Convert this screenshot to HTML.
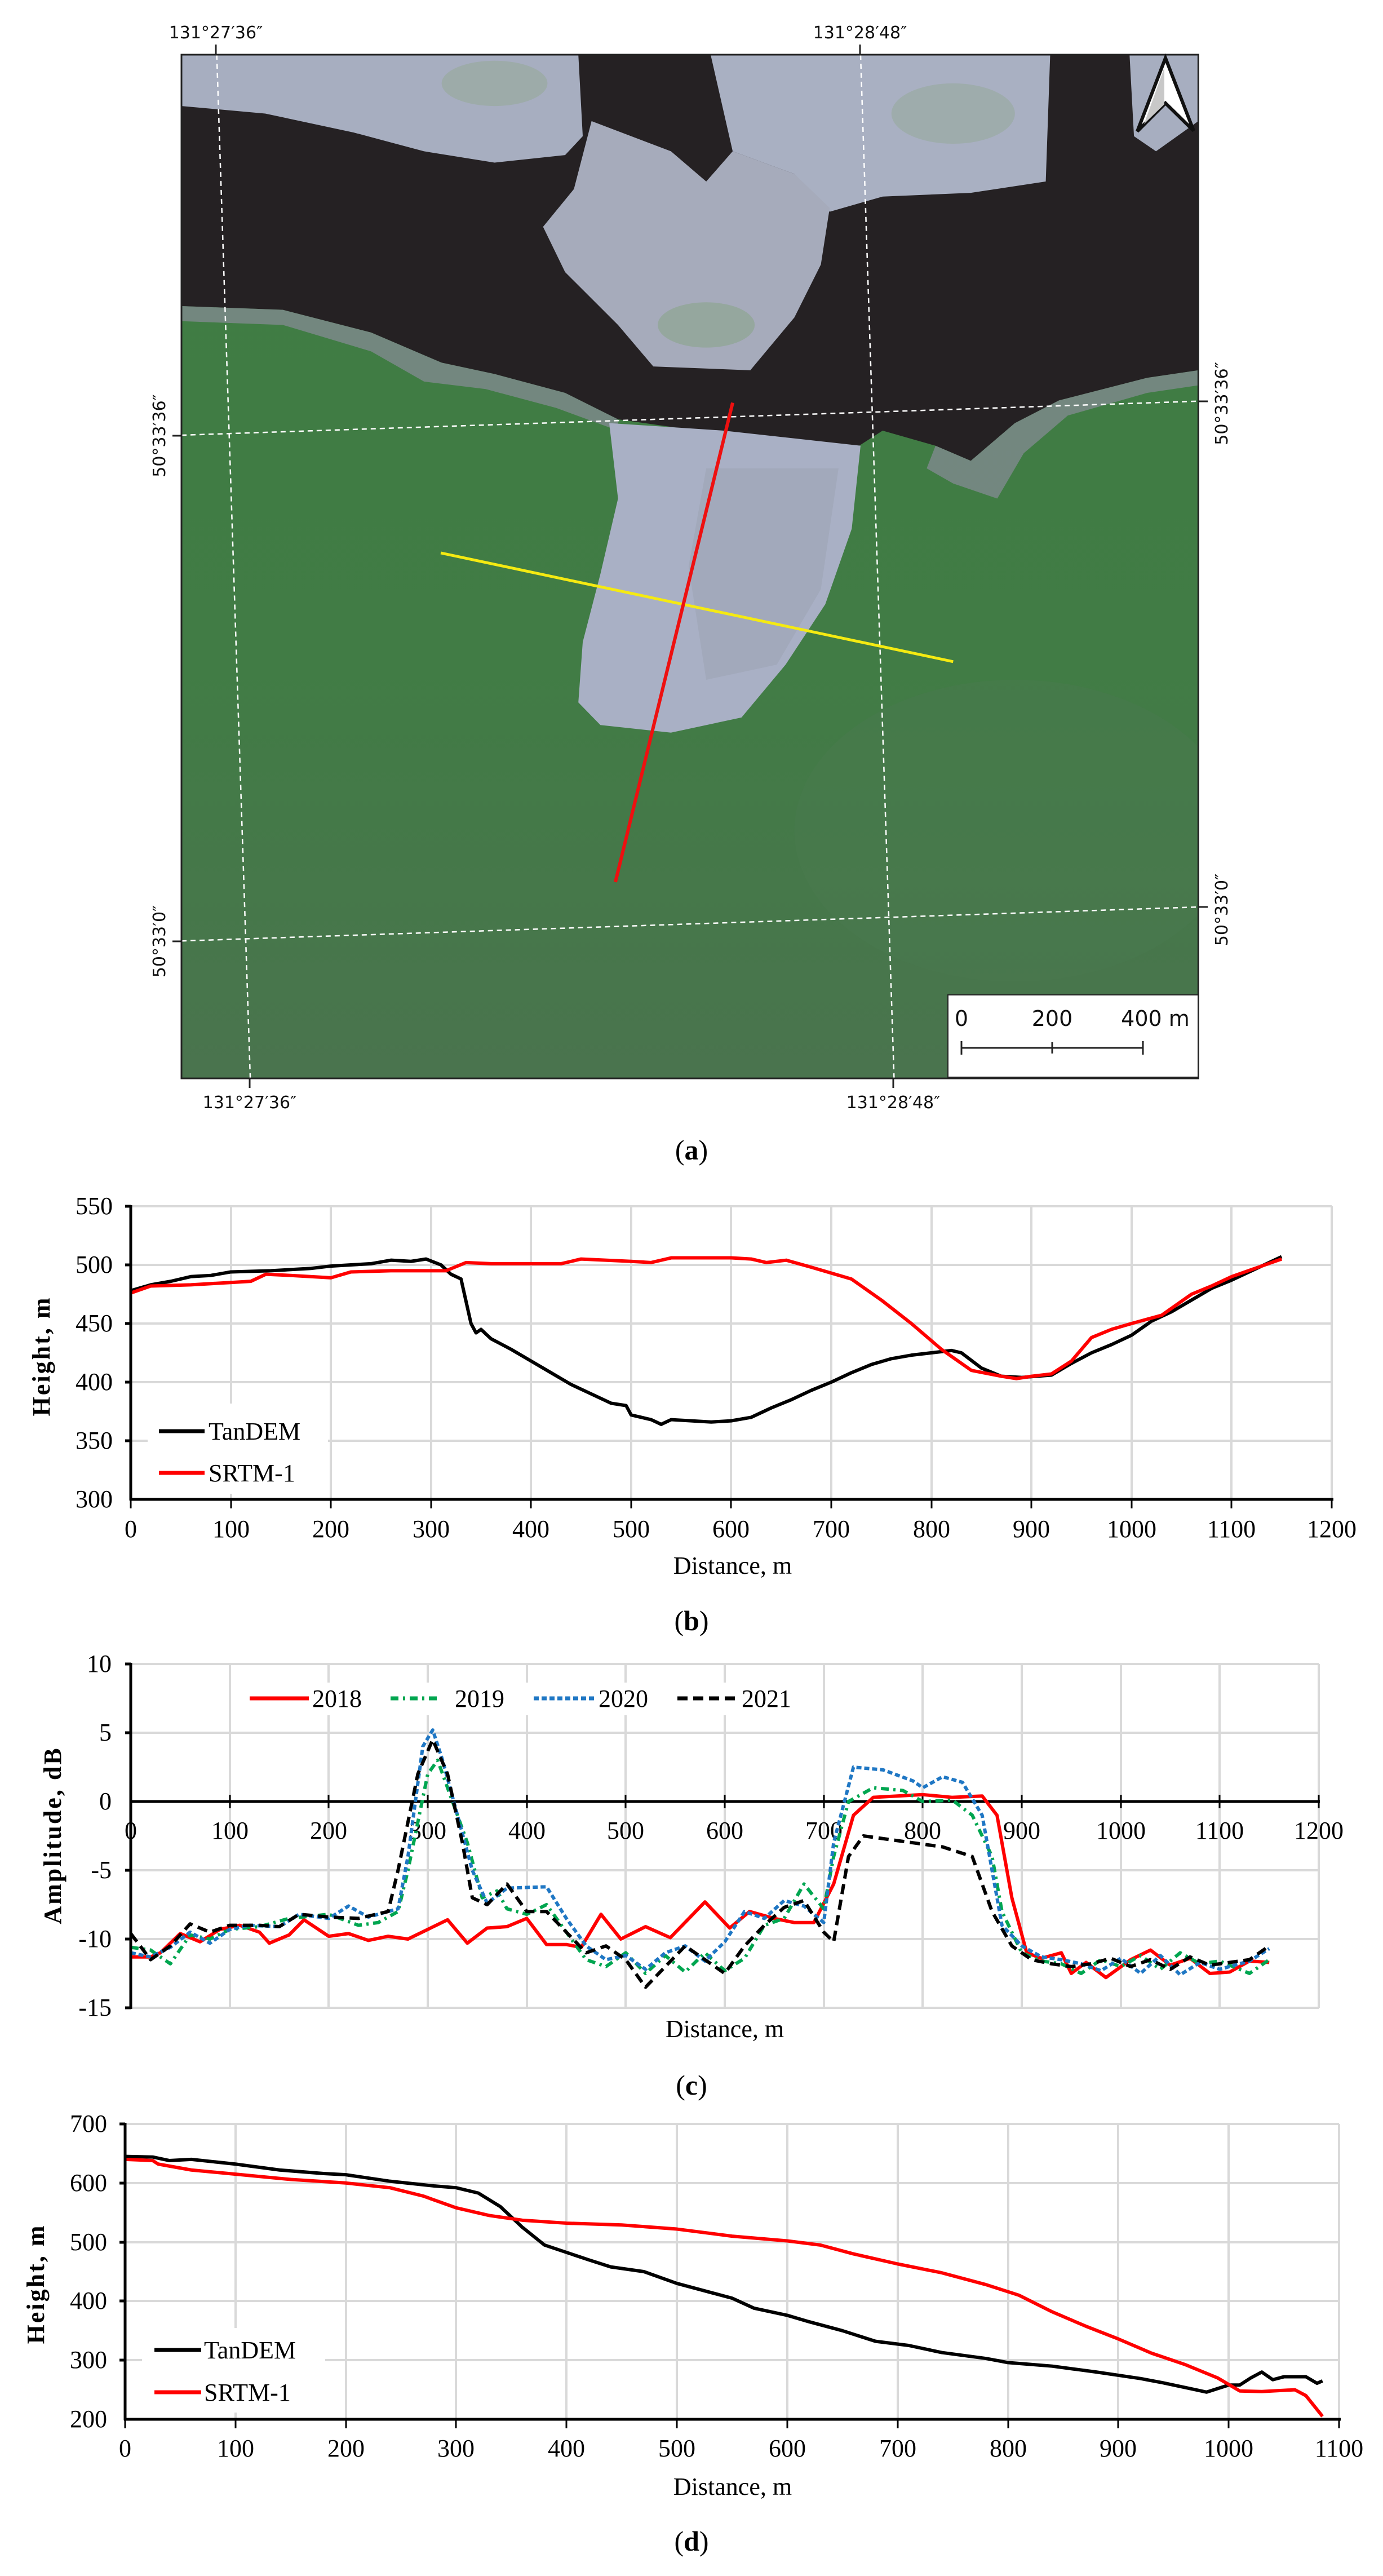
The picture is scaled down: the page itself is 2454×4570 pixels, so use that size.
<!DOCTYPE html>
<html><head><meta charset="utf-8"><style>
html,body{margin:0;padding:0;background:#fff;}
svg{display:block}
.tk{font-family:"Liberation Serif",serif;font-size:44px;fill:#000}
.ml{font-family:"DejaVu Sans",sans-serif;font-size:30px;fill:#111}
</style></head><body>
<svg xmlns="http://www.w3.org/2000/svg" width="2454" height="4570" viewBox="0 0 2454 4570">
<defs>
<linearGradient id="gg" x1="0" y1="0" x2="0" y2="1">
<stop offset="0" stop-color="#3f7d43"/><stop offset="0.6" stop-color="#417c45"/><stop offset="1" stop-color="#4a744e"/>
</linearGradient>
<clipPath id="mc"><rect x="205" y="72" width="1153" height="1356"/></clipPath>
</defs>
<!-- MAP -->
<g transform="translate(322,97) scale(1.5649,1.3393) translate(-205,-72)">
<g clip-path="url(#mc)">
<rect x="205" y="72" width="1153" height="1356" fill="url(#gg)"/>
<ellipse cx="1150" cy="1100" rx="250" ry="200" fill="#4a7a50" opacity="0.4"/>
<path d="M205,72 L1358,72 L1358,490 L1300,500 L1200,530 L1150,560 L1100,610 L1060,590 L1000,570 L960,600 L900,590 L820,575 L700,555 L640,520 L560,495 L500,480 L420,440 L320,410 L205,405 Z" fill="#252123"/>
<path d="M205,405 L320,410 L420,440 L500,480 L560,495 L640,520 L700,555 L700,570 L630,540 L550,515 L480,505 L420,465 L320,430 L205,425 Z" fill="#7f8a8f" opacity="0.8"/>
<path d="M1060,590 L1100,610 L1150,560 L1200,530 L1300,500 L1358,490 L1358,510 L1300,520 L1210,550 L1160,600 L1130,660 L1080,640 L1050,620 Z" fill="#7f8a8f" opacity="0.8"/>
<path d="M205,72 L655,72 L660,180 L640,205 L560,215 L480,200 L400,175 L300,150 L205,140 Z" fill="#a7aec0"/>
<path d="M805,72 L1190,72 L1185,240 L1100,255 L1000,260 L940,280 L900,230 L830,200 Z" fill="#a9b0c2"/>
<path d="M1280,72 L1358,72 L1358,160 L1310,200 L1285,180 Z" fill="#a7aec0"/>
<path d="M670,160 L760,200 L800,240 L830,200 L900,230 L940,275 L930,350 L900,420 L850,490 L740,485 L700,430 L640,360 L615,300 L650,250 Z" fill="#a6abbb"/>
<ellipse cx="800" cy="430" rx="55" ry="30" fill="#8fa592" opacity="0.7"/>
<ellipse cx="560" cy="110" rx="60" ry="30" fill="#96a89a" opacity="0.6"/>
<ellipse cx="1080" cy="150" rx="70" ry="40" fill="#98aa9d" opacity="0.6"/>
<path d="M690,560 L820,570 L975,590 L965,700 L935,800 L890,880 L840,950 L760,970 L680,960 L655,930 L660,850 L680,760 L700,660 Z" fill="#a9b0c5"/>
<path d="M800,620 L950,620 L930,780 L880,880 L800,900 L780,750 Z" fill="#9ca1b2" opacity="0.5"/>
<g stroke="#fff" stroke-width="2.5" stroke-dasharray="9,7" fill="none">
<line x1="245" y1="72" x2="283" y2="1428" vector-effect="non-scaling-stroke"/>
<line x1="975" y1="72" x2="1013" y2="1428" vector-effect="non-scaling-stroke"/>
<line x1="205" y1="576" x2="1358" y2="531" vector-effect="non-scaling-stroke"/>
<line x1="205" y1="1246" x2="1358" y2="1201" vector-effect="non-scaling-stroke"/>
</g>
<line x1="499" y1="732" x2="1080" y2="876" stroke="#f5ea12" stroke-width="5" vector-effect="non-scaling-stroke"/>
<line x1="830" y1="533" x2="697" y2="1168" stroke="#ee1010" stroke-width="6" vector-effect="non-scaling-stroke"/>
</g>
<rect x="205" y="72" width="1153" height="1356" fill="none" stroke="#222" stroke-width="3" vector-effect="non-scaling-stroke"/>
</g>
<g stroke="#222" stroke-width="3">
<line x1="383" y1="79" x2="383" y2="97"/><line x1="1526" y1="79" x2="1526" y2="97"/>
<line x1="443" y1="1912" x2="443" y2="1930"/><line x1="1585" y1="1912" x2="1585" y2="1930"/>
<line x1="306" y1="773" x2="322" y2="773"/><line x1="306" y1="1670" x2="322" y2="1670"/>
<line x1="2127" y1="712" x2="2143" y2="712"/><line x1="2127" y1="1609" x2="2143" y2="1609"/>
</g>
<text class="ml" x="383" y="68" text-anchor="middle">131°27′36″</text>
<text class="ml" x="1526" y="68" text-anchor="middle">131°28′48″</text>
<text class="ml" x="443" y="1966" text-anchor="middle">131°27′36″</text>
<text class="ml" x="1585" y="1966" text-anchor="middle">131°28′48″</text>
<text class="ml" transform="translate(293,773) rotate(-90)" text-anchor="middle">50°33′36″</text>
<text class="ml" transform="translate(293,1670) rotate(-90)" text-anchor="middle">50°33′0″</text>
<text class="ml" transform="translate(2178,716) rotate(-90)" text-anchor="middle">50°33′36″</text>
<text class="ml" transform="translate(2178,1614) rotate(-90)" text-anchor="middle">50°33′0″</text>
<rect x="1682" y="1765" width="444" height="146" fill="#fff" stroke="#222" stroke-width="2"/>
<g font-family="DejaVu Sans, sans-serif" font-size="38" fill="#111" text-anchor="middle">
<text x="1706" y="1820">0</text><text x="1867" y="1820">200</text><text x="2050" y="1820">400 m</text>
</g>
<g stroke="#222" stroke-width="3">
<line x1="1706" y1="1859" x2="2028" y2="1859"/>
<line x1="1706" y1="1847" x2="1706" y2="1871"/><line x1="1867" y1="1849" x2="1867" y2="1869"/><line x1="2028" y1="1847" x2="2028" y2="1871"/>
</g>
<path d="M2068,103 L2118,232 L2068,183 L2018,233 Z" fill="#fff" stroke="#111" stroke-width="6" stroke-linejoin="miter"/>
<path d="M2066,120 L2066,185 L2030,220 Z" fill="#c8c8c8"/>
<text x="1227" y="2057" text-anchor="middle" font-family="Liberation Serif,serif" font-size="50">(<tspan font-weight="bold">a</tspan>)</text>

<!-- CHART B -->
<g stroke="#d9d9d9" stroke-width="4">
<line x1="232" y1="2140" x2="2363" y2="2140"/><line x1="232" y1="2244" x2="2363" y2="2244"/><line x1="232" y1="2348" x2="2363" y2="2348"/><line x1="232" y1="2452" x2="2363" y2="2452"/><line x1="232" y1="2556" x2="2363" y2="2556"/>
<line x1="410" y1="2140" x2="410" y2="2660"/><line x1="587" y1="2140" x2="587" y2="2660"/><line x1="765" y1="2140" x2="765" y2="2660"/><line x1="942" y1="2140" x2="942" y2="2660"/><line x1="1120" y1="2140" x2="1120" y2="2660"/><line x1="1297" y1="2140" x2="1297" y2="2660"/><line x1="1475" y1="2140" x2="1475" y2="2660"/><line x1="1653" y1="2140" x2="1653" y2="2660"/><line x1="1830" y1="2140" x2="1830" y2="2660"/><line x1="2008" y1="2140" x2="2008" y2="2660"/><line x1="2185" y1="2140" x2="2185" y2="2660"/><line x1="2363" y1="2140" x2="2363" y2="2660"/>
</g>
<rect x="262" y="2490" width="320" height="160" fill="#fff"/>
<g transform="translate(232,2140) scale(1.7758,-2.08) translate(0,-550)" fill="none" stroke-width="6" stroke-linejoin="round">
<polyline vector-effect="non-scaling-stroke" stroke="#000" points="0,478 20,483 40,486 60,490 80,491 100,494 140,495 180,497 200,499 220,500 240,501 260,504 280,503 295,505 310,500 320,492 330,488 340,450 345,442 350,445 360,437 380,428 400,418 420,408 440,398 460,390 480,382 495,380 500,372 520,368 530,364 540,368 560,367 580,366 600,367 620,370 640,378 660,385 680,393 700,400 720,408 740,415 760,420 780,423 800,425 820,427 830,425 850,412 870,405 890,404 920,406 940,416 960,425 980,432 1000,440 1020,452 1040,460 1060,470 1080,480 1100,487 1120,495 1150,507"/>
<polyline vector-effect="non-scaling-stroke" stroke="#f00" points="0,476 20,482 60,483 100,485 120,486 135,492 160,491 200,489 220,494 260,495 300,495 315,495 335,502 360,501 400,501 430,501 450,505 500,503 520,502 540,506 600,506 620,505 635,502 655,504 680,498 720,488 750,470 780,450 810,428 840,410 870,405 885,403 900,405 920,407 940,418 960,438 980,445 1000,450 1030,457 1060,475 1080,482 1100,490 1150,505"/>
</g>
<g stroke="#000" stroke-width="5">
<line x1="232" y1="2138" x2="232" y2="2662"/><line x1="230" y1="2660" x2="2366" y2="2660"/>
<line x1="222" y1="2140" x2="232" y2="2140"/><line x1="222" y1="2244" x2="232" y2="2244"/><line x1="222" y1="2348" x2="232" y2="2348"/><line x1="222" y1="2452" x2="232" y2="2452"/><line x1="222" y1="2556" x2="232" y2="2556"/>
</g>
<g stroke="#000" stroke-width="3">
<line x1="232" y1="2660" x2="232" y2="2676"/><line x1="410" y1="2660" x2="410" y2="2676"/><line x1="587" y1="2660" x2="587" y2="2676"/><line x1="765" y1="2660" x2="765" y2="2676"/><line x1="942" y1="2660" x2="942" y2="2676"/><line x1="1120" y1="2660" x2="1120" y2="2676"/><line x1="1297" y1="2660" x2="1297" y2="2676"/><line x1="1475" y1="2660" x2="1475" y2="2676"/><line x1="1653" y1="2660" x2="1653" y2="2676"/><line x1="1830" y1="2660" x2="1830" y2="2676"/><line x1="2008" y1="2660" x2="2008" y2="2676"/><line x1="2185" y1="2660" x2="2185" y2="2676"/><line x1="2363" y1="2660" x2="2363" y2="2676"/>
</g>
<g class="tk" text-anchor="end">
<text x="200" y="2154">550</text><text x="200" y="2258">500</text><text x="200" y="2362">450</text><text x="200" y="2466">400</text><text x="200" y="2570">350</text><text x="200" y="2674">300</text>
</g>
<g class="tk" text-anchor="middle">
<text x="232" y="2727">0</text><text x="410" y="2727">100</text><text x="587" y="2727">200</text><text x="765" y="2727">300</text><text x="942" y="2727">400</text><text x="1120" y="2727">500</text><text x="1297" y="2727">600</text><text x="1475" y="2727">700</text><text x="1653" y="2727">800</text><text x="1830" y="2727">900</text><text x="2008" y="2727">1000</text><text x="2185" y="2727">1100</text><text x="2363" y="2727">1200</text>
<text x="1300" y="2792">Distance, m</text>
</g>
<text class="tk" transform="translate(88,2406) rotate(-90)" text-anchor="middle" font-weight="bold" letter-spacing="3" font-size="42">Height, m</text>
<line x1="282" y1="2539" x2="363" y2="2539" stroke="#000" stroke-width="7"/>
<line x1="282" y1="2613" x2="363" y2="2613" stroke="#f00" stroke-width="7"/>
<text class="tk" x="370" y="2554">TanDEM</text><text class="tk" x="370" y="2628">SRTM-1</text>
<text x="1227" y="2892" text-anchor="middle" font-family="Liberation Serif,serif" font-size="50">(<tspan font-weight="bold">b</tspan>)</text>

<!-- CHART C -->
<g stroke="#d9d9d9" stroke-width="4">
<line x1="232" y1="2952" x2="2340" y2="2952"/><line x1="232" y1="3074" x2="2340" y2="3074"/><line x1="232" y1="3318" x2="2340" y2="3318"/><line x1="232" y1="3440" x2="2340" y2="3440"/><line x1="232" y1="3562" x2="2340" y2="3562"/>
<line x1="408" y1="2952" x2="408" y2="3562"/><line x1="583" y1="2952" x2="583" y2="3562"/><line x1="759" y1="2952" x2="759" y2="3562"/><line x1="935" y1="2952" x2="935" y2="3562"/><line x1="1110" y1="2952" x2="1110" y2="3562"/><line x1="1286" y1="2952" x2="1286" y2="3562"/><line x1="1462" y1="2952" x2="1462" y2="3562"/><line x1="1637" y1="2952" x2="1637" y2="3562"/><line x1="1813" y1="2952" x2="1813" y2="3562"/><line x1="1989" y1="2952" x2="1989" y2="3562"/><line x1="2164" y1="2952" x2="2164" y2="3562"/><line x1="2340" y1="2952" x2="2340" y2="3562"/>
</g>
<rect x="430" y="2985" width="995" height="58" fill="#fff"/>
<g stroke="#000" stroke-width="5">
<line x1="230" y1="3196" x2="2342" y2="3196"/>
</g>
<g stroke="#000" stroke-width="3">
<line x1="232" y1="3184" x2="232" y2="3208"/><line x1="408" y1="3184" x2="408" y2="3208"/><line x1="583" y1="3184" x2="583" y2="3208"/><line x1="759" y1="3184" x2="759" y2="3208"/><line x1="935" y1="3184" x2="935" y2="3208"/><line x1="1110" y1="3184" x2="1110" y2="3208"/><line x1="1286" y1="3184" x2="1286" y2="3208"/><line x1="1462" y1="3184" x2="1462" y2="3208"/><line x1="1637" y1="3184" x2="1637" y2="3208"/><line x1="1813" y1="3184" x2="1813" y2="3208"/><line x1="1989" y1="3184" x2="1989" y2="3208"/><line x1="2164" y1="3184" x2="2164" y2="3208"/><line x1="2340" y1="3184" x2="2340" y2="3208"/>
</g>
<g class="tk" text-anchor="middle">
<text x="232" y="3262">0</text><text x="408" y="3262">100</text><text x="583" y="3262">200</text><text x="759" y="3262">300</text><text x="935" y="3262">400</text><text x="1110" y="3262">500</text><text x="1286" y="3262">600</text><text x="1462" y="3262">700</text><text x="1637" y="3262">800</text><text x="1813" y="3262">900</text><text x="1989" y="3262">1000</text><text x="2164" y="3262">1100</text><text x="2340" y="3262">1200</text>
<text x="1286" y="3614">Distance, m</text>
</g>
<g transform="translate(232,3196) scale(1.7567,-24.4)" fill="none" stroke-width="6" stroke-linejoin="round">
<polyline vector-effect="non-scaling-stroke" stroke="#f00" points="0,-11.3 20,-11.3 30,-11 50,-9.6 70,-10.2 90,-9.3 110,-9 130,-9.5 140,-10.3 160,-9.7 175,-8.6 200,-9.8 220,-9.6 240,-10.1 260,-9.8 280,-10 300,-9.3 320,-8.6 340,-10.3 360,-9.2 380,-9.1 400,-8.5 420,-10.4 440,-10.4 455,-10.6 475,-8.2 495,-10 520,-9.1 545,-9.9 580,-7.3 605,-9.2 625,-8 650,-8.5 670,-8.8 690,-8.8 710,-6 730,-1 750,0.3 800,0.5 830,0.3 860,0.4 875,-1 890,-7 905,-11 920,-11.4 940,-11 950,-12.5 965,-11.7 985,-12.8 1010,-11.5 1030,-10.8 1050,-11.9 1070,-11.4 1090,-12.5 1110,-12.4 1130,-11.6 1150,-11.7"/>
<polyline vector-effect="non-scaling-stroke" stroke="#00a650" stroke-dasharray="14,8,4,8" points="0,-10.6 20,-10.8 40,-11.8 60,-9.7 80,-10 100,-9.3 130,-9.1 160,-8.5 200,-8.2 230,-9 250,-8.8 270,-8 280,-5 300,2 310,3 320,1 340,-3 355,-7 370,-6.5 380,-7.8 400,-8.2 420,-7.5 440,-9.5 460,-11.5 480,-12 500,-11 520,-12.5 540,-11.2 560,-12.4 580,-11 600,-12.3 620,-11.4 640,-9 660,-8.5 680,-6 700,-7.8 710,-4 725,0 750,1 780,0.8 800,0 830,0.1 850,-1 870,-4 880,-8 900,-11 920,-11.6 940,-11.8 960,-12.5 980,-11.5 1000,-12 1020,-11.2 1040,-12.2 1060,-11 1080,-11.8 1100,-11.6 1130,-12.5 1150,-11.5"/>
<polyline vector-effect="non-scaling-stroke" stroke="#1f77c4" stroke-dasharray="9,5" points="0,-11 20,-11.3 40,-10.6 60,-9.5 80,-10.3 100,-9.3 120,-9 150,-9.1 170,-8.2 200,-8.5 220,-7.6 240,-8.4 270,-7.8 280,-4 295,4 305,5.2 315,3 330,-1 345,-5 360,-7.4 380,-6.3 420,-6.2 440,-8.5 460,-10.5 480,-11.5 500,-11.2 520,-12.2 540,-11 560,-10.5 580,-11.6 600,-10.2 620,-8 640,-8.5 660,-7.2 680,-7.6 700,-8.8 710,-3 730,2.5 760,2.3 790,1.5 800,1 820,1.8 840,1.4 860,-1 870,-5 880,-9 900,-10.5 920,-11.3 940,-11.5 960,-11.8 980,-12.3 1000,-11.4 1020,-12.5 1040,-11.2 1060,-12.6 1080,-11.7 1100,-12.2 1130,-11.6 1150,-10.7"/>
<polyline vector-effect="non-scaling-stroke" stroke="#000" stroke-dasharray="18,10" points="0,-9.6 20,-11.5 40,-10.5 60,-8.9 80,-9.5 100,-9 130,-9 150,-9.1 170,-8.2 200,-8.4 230,-8.5 260,-8 270,-5 290,2 305,4.5 320,2 335,-3 345,-7 360,-7.5 380,-6 400,-8 420,-8 440,-9.5 460,-11 480,-10.5 500,-11.5 520,-13.5 540,-12 560,-10.5 580,-11.5 600,-12.5 620,-10.5 640,-9 660,-7.7 680,-7.2 700,-9.5 710,-10.2 725,-4 740,-2.5 770,-2.8 790,-3 820,-3.3 850,-4 870,-8 890,-10.5 910,-11.5 930,-11.8 950,-12 970,-11.8 990,-11.4 1010,-12 1030,-11.5 1050,-12.2 1070,-11.3 1090,-11.9 1110,-11.7 1130,-11.5 1150,-10.5"/>
</g>
<g stroke="#000" stroke-width="5">
<line x1="232" y1="2950" x2="232" y2="3564"/>
<line x1="222" y1="2952" x2="232" y2="2952"/><line x1="222" y1="3074" x2="232" y2="3074"/><line x1="222" y1="3318" x2="232" y2="3318"/><line x1="222" y1="3440" x2="232" y2="3440"/><line x1="222" y1="3562" x2="232" y2="3562"/>
</g>
<g class="tk" text-anchor="end">
<text x="198" y="2966">10</text><text x="198" y="3088">5</text><text x="198" y="3210">0</text><text x="198" y="3332">-5</text><text x="198" y="3454">-10</text><text x="198" y="3576">-15</text>
</g>
<text class="tk" transform="translate(108,3256) rotate(-90)" text-anchor="middle" font-weight="bold" letter-spacing="3" font-size="42">Amplitude, dB</text>
<line x1="443" y1="3013" x2="548" y2="3013" stroke="#f00" stroke-width="7"/>
<line x1="693" y1="3013" x2="782" y2="3013" stroke="#00a650" stroke-width="7" stroke-dasharray="14,8,4,8"/>
<line x1="947" y1="3013" x2="1056" y2="3013" stroke="#1f77c4" stroke-width="7" stroke-dasharray="9,5"/>
<line x1="1202" y1="3013" x2="1311" y2="3013" stroke="#000" stroke-width="7" stroke-dasharray="18,10"/>
<g class="tk"><text x="554" y="3028">2018</text><text x="807" y="3028">2019</text><text x="1062" y="3028">2020</text><text x="1316" y="3028">2021</text></g>
<text x="1227" y="3716" text-anchor="middle" font-family="Liberation Serif,serif" font-size="50">(<tspan font-weight="bold">c</tspan>)</text>

<!-- CHART D -->
<g stroke="#d9d9d9" stroke-width="4">
<line x1="222" y1="3768" x2="2376" y2="3768"/><line x1="222" y1="3873" x2="2376" y2="3873"/><line x1="222" y1="3978" x2="2376" y2="3978"/><line x1="222" y1="4082" x2="2376" y2="4082"/><line x1="222" y1="4187" x2="2376" y2="4187"/>
<line x1="418" y1="3768" x2="418" y2="4292"/><line x1="614" y1="3768" x2="614" y2="4292"/><line x1="809" y1="3768" x2="809" y2="4292"/><line x1="1005" y1="3768" x2="1005" y2="4292"/><line x1="1201" y1="3768" x2="1201" y2="4292"/><line x1="1397" y1="3768" x2="1397" y2="4292"/><line x1="1593" y1="3768" x2="1593" y2="4292"/><line x1="1789" y1="3768" x2="1789" y2="4292"/><line x1="1984" y1="3768" x2="1984" y2="4292"/><line x1="2180" y1="3768" x2="2180" y2="4292"/><line x1="2376" y1="3768" x2="2376" y2="4292"/>
</g>
<rect x="252" y="4130" width="325" height="150" fill="#fff"/>
<g transform="translate(222,3768) scale(1.9582,-1.048) translate(0,-700)" fill="none" stroke-width="6" stroke-linejoin="round">
<polyline vector-effect="non-scaling-stroke" stroke="#000" points="0,645 25,644 40,638 60,640 80,636 100,632 140,622 180,616 200,614 240,603 280,595 300,592 320,583 340,560 360,525 380,495 420,470 440,458 470,450 500,430 530,415 550,405 570,388 600,376 620,365 650,350 680,332 710,325 740,313 780,303 800,296 840,290 880,280 920,269 940,262 970,250 980,246 990,252 1000,258 1010,258 1020,270 1030,280 1040,267 1050,272 1070,272 1080,261 1085,265"/>
<polyline vector-effect="non-scaling-stroke" stroke="#f00" points="0,640 25,638 30,632 60,622 100,615 150,606 200,600 240,592 270,578 300,558 330,545 360,537 400,532 450,529 500,522 550,510 600,502 630,495 660,480 700,463 740,448 780,428 810,410 840,382 870,358 900,336 930,312 960,293 990,270 1010,248 1030,247 1060,250 1070,240 1085,205"/>
</g>
<g stroke="#000" stroke-width="5">
<line x1="222" y1="3766" x2="222" y2="4294"/><line x1="220" y1="4292" x2="2379" y2="4292"/>
<line x1="212" y1="3768" x2="222" y2="3768"/><line x1="212" y1="3873" x2="222" y2="3873"/><line x1="212" y1="3978" x2="222" y2="3978"/><line x1="212" y1="4082" x2="222" y2="4082"/><line x1="212" y1="4187" x2="222" y2="4187"/>
</g>
<g stroke="#000" stroke-width="3">
<line x1="222" y1="4292" x2="222" y2="4308"/><line x1="418" y1="4292" x2="418" y2="4308"/><line x1="614" y1="4292" x2="614" y2="4308"/><line x1="809" y1="4292" x2="809" y2="4308"/><line x1="1005" y1="4292" x2="1005" y2="4308"/><line x1="1201" y1="4292" x2="1201" y2="4308"/><line x1="1397" y1="4292" x2="1397" y2="4308"/><line x1="1593" y1="4292" x2="1593" y2="4308"/><line x1="1789" y1="4292" x2="1789" y2="4308"/><line x1="1984" y1="4292" x2="1984" y2="4308"/><line x1="2180" y1="4292" x2="2180" y2="4308"/><line x1="2376" y1="4292" x2="2376" y2="4308"/>
</g>
<g class="tk" text-anchor="end">
<text x="190" y="3782">700</text><text x="190" y="3887">600</text><text x="190" y="3992">500</text><text x="190" y="4096">400</text><text x="190" y="4201">300</text><text x="190" y="4306">200</text>
</g>
<g class="tk" text-anchor="middle">
<text x="222" y="4358">0</text><text x="418" y="4358">100</text><text x="614" y="4358">200</text><text x="809" y="4358">300</text><text x="1005" y="4358">400</text><text x="1201" y="4358">500</text><text x="1397" y="4358">600</text><text x="1593" y="4358">700</text><text x="1789" y="4358">800</text><text x="1984" y="4358">900</text><text x="2180" y="4358">1000</text><text x="2376" y="4358">1100</text>
<text x="1300" y="4426">Distance, m</text>
</g>
<text class="tk" transform="translate(78,4052) rotate(-90)" text-anchor="middle" font-weight="bold" letter-spacing="3" font-size="42">Height, m</text>
<line x1="274" y1="4169" x2="357" y2="4169" stroke="#000" stroke-width="7"/>
<line x1="274" y1="4244" x2="357" y2="4244" stroke="#f00" stroke-width="7"/>
<text class="tk" x="362" y="4184">TanDEM</text><text class="tk" x="362" y="4259">SRTM-1</text>
<text x="1227" y="4525" text-anchor="middle" font-family="Liberation Serif,serif" font-size="50">(<tspan font-weight="bold">d</tspan>)</text>
</svg>
</body></html>
